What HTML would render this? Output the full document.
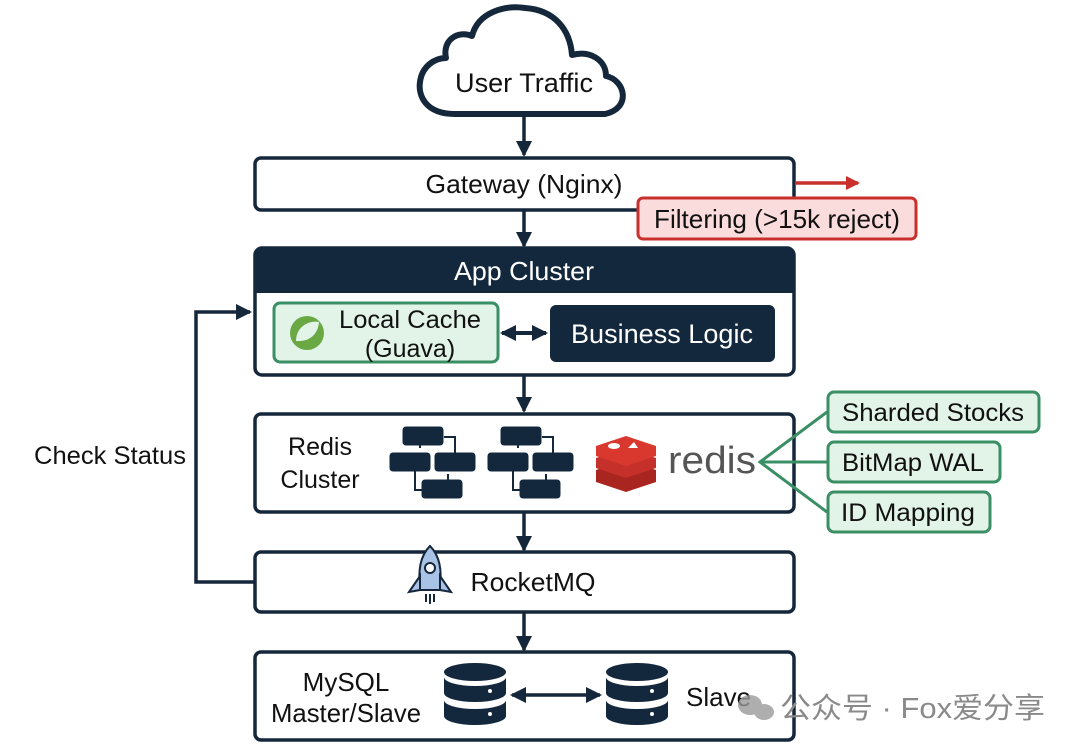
<!DOCTYPE html>
<html><head><meta charset="utf-8"><style>
html,body{margin:0;padding:0;background:#fff;}
svg{display:block;}
text{font-family:"Liberation Sans","Noto Sans CJK SC",sans-serif;}
</style></head><body>
<svg width="1080" height="751" viewBox="0 0 1080 751" xmlns="http://www.w3.org/2000/svg">
<defs>
<marker id="ahr" markerWidth="14" markerHeight="14" refX="12" refY="7" orient="auto" markerUnits="userSpaceOnUse"><path d="M0,0 L14,7 L0,14 z" fill="#c9302c"/></marker>
<marker id="ahb" markerWidth="16" markerHeight="16" refX="14" refY="8" orient="auto" markerUnits="userSpaceOnUse"><path d="M0,0 L16,8 L0,16 z" fill="#15273a"/></marker>
<marker id="ahbs" markerWidth="16" markerHeight="16" refX="2" refY="8" orient="auto" markerUnits="userSpaceOnUse"><path d="M16,0 L0,8 L16,16 z" fill="#15273a"/></marker>
</defs>
<!-- cloud -->
<path d="M455,114 C425,114 418,95 420,82 C422,66 435,58 446,58 C442,40 458,30 472,36 C478,12 505,5 525,8 C555,10 570,30 572,55 C590,50 606,60 606,76 C625,80 632,108 605,114 Z" fill="#fff" stroke="#15273a" stroke-width="6" stroke-linejoin="round"/>
<text x="524" y="92" font-size="27" text-anchor="middle" fill="#111" textLength="138" lengthAdjust="spacingAndGlyphs">User Traffic</text>
<g stroke="#15273a" stroke-width="3.5" marker-end="url(#ahb)">
<line x1="524" y1="116" x2="524" y2="155"/>
<line x1="524" y1="211" x2="524" y2="246"/>
<line x1="524" y1="376" x2="524" y2="411"/>
<line x1="524" y1="513" x2="524" y2="550"/>
<line x1="524" y1="613" x2="524" y2="650"/>
</g>
<rect x="255" y="158" width="539" height="52" rx="6" fill="#fff" stroke="#15273a" stroke-width="3.5"/>
<text x="524" y="193" font-size="26" text-anchor="middle" fill="#111" textLength="197" lengthAdjust="spacingAndGlyphs">Gateway (Nginx)</text>
<line x1="795" y1="183" x2="858" y2="183" stroke="#c9302c" stroke-width="3.5" marker-end="url(#ahr)"/>
<rect x="638" y="198" width="278" height="41" rx="5" fill="#fbdcdc" stroke="#c9302c" stroke-width="3"/>
<text x="777" y="228" font-size="26" text-anchor="middle" fill="#111" textLength="246" lengthAdjust="spacingAndGlyphs">Filtering (&gt;15k reject)</text>
<rect x="255" y="248" width="539" height="127" rx="7" fill="#fff" stroke="#15273a" stroke-width="3.5"/>
<path d="M255,293 V255 a7,7 0 0 1 7,-7 H787 a7,7 0 0 1 7,7 V293 Z" fill="#13283d"/>
<text x="524" y="280" font-size="26" text-anchor="middle" fill="#fff" textLength="140" lengthAdjust="spacingAndGlyphs">App Cluster</text>
<rect x="274" y="303" width="224" height="59" rx="6" fill="#e2f3e8" stroke="#3a8f64" stroke-width="3"/>
<circle cx="307" cy="333" r="17" fill="#6aa844"/>
<path d="M296,341 C296,326 310,320 319,322 C318,334 310,342 296,341 Z" fill="#e2f3e8"/>
<text x="410" y="328" font-size="25" text-anchor="middle" fill="#111" textLength="142" lengthAdjust="spacingAndGlyphs">Local Cache</text>
<text x="410" y="357" font-size="25" text-anchor="middle" fill="#111">(Guava)</text>
<line x1="502" y1="333" x2="546" y2="333" stroke="#15273a" stroke-width="4" marker-end="url(#ahb)" marker-start="url(#ahbs)"/>
<rect x="550" y="305" width="225" height="57" rx="6" fill="#13283d"/>
<text x="662" y="343" font-size="27" text-anchor="middle" fill="#fff" textLength="182" lengthAdjust="spacingAndGlyphs">Business Logic</text>
<rect x="255" y="414" width="539" height="98" rx="6" fill="#fff" stroke="#15273a" stroke-width="3.5"/>
<text x="320" y="455" font-size="25" text-anchor="middle" fill="#111">Redis</text>
<text x="320" y="488" font-size="25" text-anchor="middle" fill="#111">Cluster</text>
<g id="cl" fill="#13283d" stroke="#13283d">
<path d="M420,437 V448 M444,437 H455 V460 M415,466 V490 H425 M448,474 V484" fill="none" stroke-width="2"/>
<rect x="403" y="427" width="40" height="18" rx="3"/>
<rect x="390" y="453" width="40" height="18" rx="3"/>
<rect x="435" y="453" width="40" height="18" rx="3"/>
<rect x="422" y="480" width="40" height="18" rx="3"/>
</g>
<use href="#cl" x="98"/>
<g>
<path d="M596,470 l30,-10 l30,10 v12 l-30,10 l-30,-10z" fill="#a8261f"/>
<path d="M596,458 l30,-10 l30,10 v10 l-30,10 l-30,-10z" fill="#c6302b"/>
<path d="M596,446 l30,-10 l30,10 v10 l-30,10 l-30,-10z" fill="#d9382f"/>
<ellipse cx="614" cy="446" rx="6" ry="3" fill="#fff"/>
<path d="M628,448 l6,-6 l4,6z" fill="#fff"/>
</g>
<text x="668" y="473" font-size="38" fill="#555" textLength="88" lengthAdjust="spacingAndGlyphs">redis</text>
<g stroke="#3a8f64" stroke-width="3" fill="none">
<path d="M827,412 L760,462 L827,512 M760,462 H827"/>
</g>
<rect x="828" y="392" width="211" height="40" rx="6" fill="#e2f3e8" stroke="#3a8f64" stroke-width="3"/>
<text x="933" y="421" font-size="25" text-anchor="middle" fill="#111" textLength="182" lengthAdjust="spacingAndGlyphs">Sharded Stocks</text>
<rect x="828" y="442" width="172" height="40" rx="6" fill="#e2f3e8" stroke="#3a8f64" stroke-width="3"/>
<text x="913" y="471" font-size="25" text-anchor="middle" fill="#111" textLength="142" lengthAdjust="spacingAndGlyphs">BitMap WAL</text>
<rect x="828" y="492" width="162" height="40" rx="6" fill="#e2f3e8" stroke="#3a8f64" stroke-width="3"/>
<text x="908" y="521" font-size="25" text-anchor="middle" fill="#111" textLength="134" lengthAdjust="spacingAndGlyphs">ID Mapping</text>
<rect x="255" y="552" width="539" height="60" rx="6" fill="#fff" stroke="#15273a" stroke-width="3.5"/>
<g stroke="#15273a" stroke-width="2" fill="#a9c3e6">
<path d="M430,546 C440,556 442,570 440,590 H420 C418,570 420,556 430,546 Z"/>
<path d="M420,576 L409,592 L420,590 Z M440,576 L451,592 L440,590 Z"/>
<circle cx="430" cy="568" r="5" fill="#fff"/>
<path d="M426,594 v8 M430,594 v10 M434,594 v8" fill="none"/>
</g>
<text x="533" y="591" font-size="26" text-anchor="middle" fill="#111" textLength="125" lengthAdjust="spacingAndGlyphs">RocketMQ</text>
<path d="M255,582 H196 V312 H250" fill="none" stroke="#15273a" stroke-width="3.5" marker-end="url(#ahb)"/>
<text x="110" y="464" font-size="25" text-anchor="middle" fill="#111" textLength="152" lengthAdjust="spacingAndGlyphs">Check Status</text>
<rect x="255" y="652" width="539" height="88" rx="6" fill="#fff" stroke="#15273a" stroke-width="3.5"/>
<text x="346" y="691" font-size="26" text-anchor="middle" fill="#111">MySQL</text>
<text x="346" y="722" font-size="26" text-anchor="middle" fill="#111" textLength="150" lengthAdjust="spacingAndGlyphs">Master/Slave</text>
<g id="db" fill="#13283d">
<ellipse cx="475" cy="672" rx="31" ry="9"/>
<path d="M444,677 a31,9 0 0 0 62,0 v16 a31,9 0 0 1 -62,0z"/>
<path d="M444,700 a31,9 0 0 0 62,0 v16 a31,9 0 0 1 -62,0z"/>
<circle cx="490" cy="691" r="2" fill="#fff"/><circle cx="490" cy="714" r="2" fill="#fff"/>
</g>
<use href="#db" x="162"/>
<line x1="512" y1="695" x2="600" y2="695" stroke="#15273a" stroke-width="3.5" marker-end="url(#ahb)" marker-start="url(#ahbs)"/>
<text x="686" y="706" font-size="26" fill="#111">Slave</text>
<g fill="#9a9a9a" opacity="0.8">
<ellipse cx="750" cy="705" rx="12" ry="10"/>
<ellipse cx="764" cy="712" rx="10" ry="8"/>
</g>
<text x="780" y="718" font-size="29" fill="#8a8a8a" textLength="265" lengthAdjust="spacingAndGlyphs">公众号 · Fox爱分享</text>
</svg>
</body></html>
